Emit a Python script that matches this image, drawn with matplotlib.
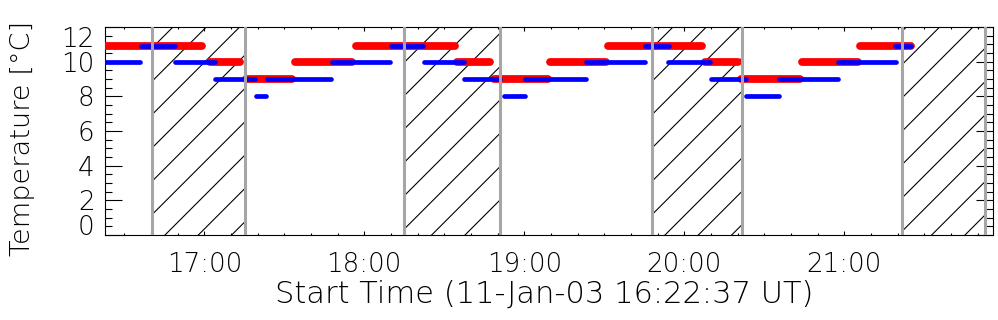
import matplotlib
matplotlib.use("Agg")
import matplotlib.pyplot as plt
import matplotlib.dates as mdates
import matplotlib.ticker as mticker
import pandas as pd

day = '2003-01-11 '
t_start = '16:22:37'
t_end = '21:55:49'

# red sensor (thick bars)
red_level = [10.0, 10.93, 10.0, 9.0, 10.0, 10.93, 10.0, 9.0, 10.0, 10.93, 10.0, 9.0, 10.0, 10.93]
red_from = ['16:15:00', '16:22:00', '17:02:08', '17:15:38', '17:34:01', '17:56:53', '18:34:46',
            '18:48:38', '19:09:38', '19:31:23', '20:07:46', '20:21:16', '20:44:08', '21:05:53']
red_to = ['16:21:30', '16:59:06', '17:13:23', '17:32:53', '17:55:23', '18:34:01', '18:47:08',
          '19:08:53', '19:30:38', '20:06:38', '20:20:08', '20:43:23', '21:05:08', '21:25:01']

# blue sensor (thin bars)
blue_level = [10.0, 10.93, 10.0, 9.0, 8.0, 9.0, 10.0, 10.93, 10.0, 9.0, 8.0, 9.0, 10.0, 10.93,
              10.0, 9.0, 8.0, 9.0, 10.0, 10.93]
blue_from = ['16:22:00', '16:36:27', '16:49:12', '17:04:12', '17:19:35', '17:23:42', '17:48:05',
             '18:10:12', '18:22:35', '18:37:35', '18:52:35', '19:00:27', '19:23:20', '19:45:27',
             '19:54:05', '20:10:12', '20:23:20', '20:35:42', '20:57:50', '21:19:12']
blue_to = ['16:36:04', '16:49:12', '17:04:12', '17:19:12', '17:23:20', '17:47:42', '18:09:50',
           '18:22:12', '18:37:35', '18:51:05', '19:00:27', '19:23:20', '19:45:27', '19:54:27',
           '20:09:50', '20:23:20', '20:35:42', '20:57:50', '21:19:35', '21:25:12']

# hatched intervals (between gray lines)
night_from = ['16:40:23', '18:14:53', '19:47:53', '21:21:38']
night_to = ['17:15:16', '18:50:53', '20:21:38', '21:52:59']

yticks = [0, 2, 4, 6, 8, 10, 12]


def tt(s):
    return pd.to_datetime(day + pd.Series(s)).tolist()


plt.rcParams['font.family'] = 'DejaVu Sans'
plt.rcParams['font.weight'] = 'light'
plt.rcParams['axes.labelweight'] = 'light'
plt.rcParams['hatch.linewidth'] = 0.4

fig = plt.figure(figsize=(4.99, 1.6), dpi=200)
ax = fig.add_axes([0.1048, 0.2656, 0.8902, 0.65])

# hatched zones with gray borders
for a, b in zip(tt(night_from), tt(night_to)):
    ax.axvspan(a, b, fill=False, hatch='//', edgecolor='k', linewidth=0, zorder=1)
    ax.axvline(a, color='#a6a6a6', lw=1.1, zorder=5)
    ax.axvline(b, color='#a6a6a6', lw=1.1, zorder=5)

for v, a, b in zip(red_level, tt(red_from), tt(red_to)):
    ax.plot([a, b], [v, v], color='red', lw=2.8, solid_capstyle='round', zorder=3)
for v, a, b in zip(blue_level, tt(blue_from), tt(blue_to)):
    ax.plot([a, b], [v, v], color='blue', lw=1.7, solid_capstyle='round', zorder=4)

ax.set_xlim(tt([t_start, t_end]))
ax.set_ylim(0, 12)

ax.xaxis.set_major_locator(mdates.HourLocator())
ax.xaxis.set_minor_locator(mdates.MinuteLocator(byminute=range(0, 60, 10)))
ax.xaxis.set_major_formatter(mdates.DateFormatter('%H:%M'))
ax.set_yticks(yticks)
ax.yaxis.set_minor_locator(mticker.MultipleLocator(0.5))

fs = 9.4
ax.tick_params(axis='both', which='both', direction='in', top=True, right=True,
               width=0.4, labelsize=fs)
ax.tick_params(axis='x', which='major', length=1.3, pad=6.0)
ax.tick_params(axis='x', which='minor', length=0.6)
ax.tick_params(axis='y', which='major', length=6.1, pad=3.6)
ax.tick_params(axis='y', which='minor', length=2.5)
for sp in ax.spines.values():
    sp.set_linewidth(0.4)

ylabs = ax.get_yticklabels()
ylabs[0].set_va('baseline')
ylabs[-1].set_va('top')

ax.set_xlabel('Start Time (11-Jan-03 16:22:37 UT)', fontsize=11.0)
ax.set_ylabel('Temperature [°C]', fontsize=9.8)
ax.xaxis.set_label_coords(0.495, -0.284)
ax.xaxis.label.set_va('center')
ax.yaxis.set_label_coords(-0.092, 0.466)
ax.yaxis.label.set_va('center')

fig.savefig('out.png', dpi=200)
